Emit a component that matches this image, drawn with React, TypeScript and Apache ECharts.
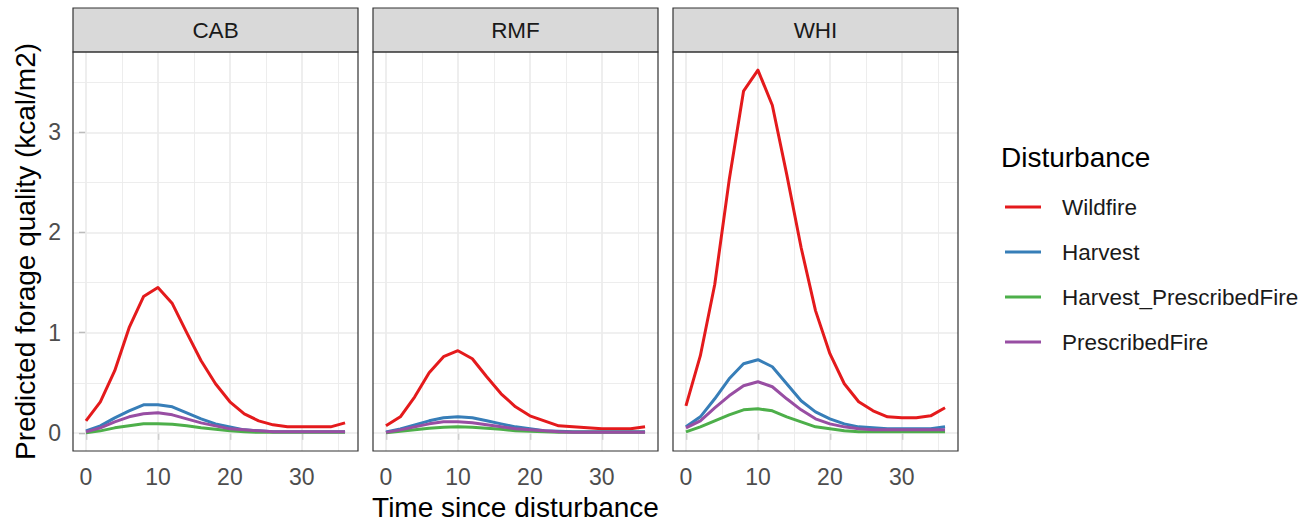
import React, { useEffect, useRef } from "react";
import * as echarts from "echarts";

const sites = ["CAB", "RMF", "WHI"];
const disturbances = ["Wildfire", "Harvest", "Harvest_PrescribedFire", "PrescribedFire"];
const colors = ["#E41A1C", "#377EB8", "#4DAF4A", "#984EA3"];
const times = [0, 2, 4, 6, 8, 10, 12, 14, 16, 18, 20, 22, 24, 26, 28, 30, 32, 34, 36];
const xTicks = [0, 10, 20, 30];
const xMinor = [5, 15, 25, 35];
const yTicks = [0, 1, 2, 3];
const yMinor = [0.5, 1.5, 2.5, 3.5];

const cabWildfire = [0.12, 0.31, 0.62, 1.05, 1.36, 1.45, 1.29, 1.0, 0.72, 0.49, 0.31, 0.19, 0.12, 0.08, 0.06, 0.06, 0.06, 0.06, 0.1];
const cabHarvest = [0.02, 0.07, 0.15, 0.22, 0.28, 0.28, 0.26, 0.2, 0.14, 0.09, 0.06, 0.03, 0.02, 0.01, 0.01, 0.01, 0.01, 0.01, 0.01];
const cabHarvestPF = [0.0, 0.02, 0.05, 0.07, 0.09, 0.09, 0.085, 0.07, 0.05, 0.035, 0.02, 0.01, 0.005, 0.005, 0.005, 0.005, 0.005, 0.005, 0.005];
const cabPF = [0.01, 0.05, 0.11, 0.16, 0.19, 0.2, 0.18, 0.14, 0.1, 0.07, 0.04, 0.03, 0.02, 0.01, 0.01, 0.01, 0.01, 0.01, 0.01];

const rmfWildfire = [0.07, 0.16, 0.36, 0.6, 0.76, 0.82, 0.74, 0.56, 0.39, 0.26, 0.17, 0.12, 0.07, 0.06, 0.05, 0.04, 0.04, 0.04, 0.06];
const rmfHarvest = [0.01, 0.04, 0.08, 0.12, 0.15, 0.16, 0.15, 0.12, 0.09, 0.06, 0.04, 0.02, 0.015, 0.01, 0.01, 0.01, 0.01, 0.01, 0.01];
const rmfHarvestPF = [0.0, 0.015, 0.03, 0.045, 0.055, 0.06, 0.055, 0.045, 0.035, 0.02, 0.015, 0.01, 0.005, 0.005, 0.005, 0.005, 0.005, 0.005, 0.005];
const rmfPF = [0.005, 0.03, 0.06, 0.09, 0.11, 0.11, 0.1, 0.08, 0.06, 0.04, 0.03, 0.02, 0.01, 0.005, 0.005, 0.005, 0.005, 0.005, 0.005];

const whiWildfire = [0.27, 0.77, 1.48, 2.52, 3.41, 3.62, 3.27, 2.58, 1.85, 1.22, 0.79, 0.49, 0.31, 0.22, 0.16, 0.15, 0.15, 0.17, 0.25];
const whiHarvest = [0.06, 0.16, 0.34, 0.54, 0.69, 0.73, 0.66, 0.49, 0.32, 0.21, 0.14, 0.09, 0.06, 0.05, 0.04, 0.04, 0.04, 0.04, 0.06];
const whiHarvestPF = [0.01, 0.06, 0.12, 0.18, 0.23, 0.24, 0.22, 0.16, 0.11, 0.06, 0.04, 0.02, 0.01, 0.01, 0.01, 0.01, 0.01, 0.01, 0.01];
const whiPF = [0.05, 0.12, 0.25, 0.37, 0.47, 0.51, 0.46, 0.34, 0.23, 0.14, 0.09, 0.06, 0.04, 0.03, 0.03, 0.03, 0.03, 0.03, 0.03];

const siteValues: number[][][] = [
  [cabWildfire, cabHarvest, cabHarvestPF, cabPF],
  [rmfWildfire, rmfHarvest, rmfHarvestPF, rmfPF],
  [whiWildfire, whiHarvest, whiHarvestPF, whiPF],
];

const FONT = '"Liberation Sans", Arial, Helvetica, sans-serif';
const panelLeft = [73, 373, 673];
const panelWidth = 285;
const panelTop = 52;
const panelHeight = 399;
const stripTop = 8;

function buildOption() {
  const all = siteValues.flat(2);
  const dMax = Math.max(...all);
  const dMin = Math.min(...all);
  const yPad = (dMax - dMin) * 0.05;
  const yMin = dMin - yPad;
  const yMax = dMax + yPad;
  const xPad = (times[times.length - 1] - times[0]) * 0.05;
  const xMin = times[0] - xPad;
  const xMax = times[times.length - 1] + xPad;

  const grids = sites.map((_, i) => ({
    left: panelLeft[i],
    top: panelTop,
    width: panelWidth,
    height: panelHeight,
    containLabel: false,
    outerBoundsMode: "none",
  }));

  const xAxes = sites.map((_, i) => ({
    type: "value",
    gridIndex: i,
    min: xMin,
    max: xMax,
    axisLine: { show: false },
    splitLine: { show: false },
    axisTick: { show: true, length: 7, lineStyle: { color: "#333333", width: 1.2 }, customValues: xTicks },
    axisLabel: { show: true, customValues: xTicks, color: "#4D4D4D", fontSize: 23, fontFamily: FONT, margin: 14 },
    name: i === 1 ? "Time since disturbance" : "",
    nameLocation: "middle",
    nameGap: 42,
    nameTextStyle: { fontSize: 28, color: "#000000", fontFamily: FONT },
  }));

  const yAxes = sites.map((_, i) => ({
    type: "value",
    gridIndex: i,
    min: yMin,
    max: yMax,
    axisLine: { show: false },
    splitLine: { show: false },
    axisTick: { show: i === 0, length: 7, lineStyle: { color: "#333333", width: 1.2 }, customValues: yTicks },
    axisLabel: { show: i === 0, customValues: yTicks, color: "#4D4D4D", fontSize: 23, fontFamily: FONT, margin: 12 },
    name: i === 0 ? "Predicted forage quality (kcal/m2)" : "",
    nameLocation: "middle",
    nameGap: 34,
    nameTextStyle: { fontSize: 28, color: "#000000", fontFamily: FONT },
  }));

  const series: any[] = [];
  sites.forEach((_, i) => {
    const major = [
      ...xTicks.map((v) => ({ xAxis: v })),
      ...yTicks.map((v) => ({ yAxis: v })),
    ];
    const minor = [
      ...xMinor.map((v) => ({ xAxis: v })),
      ...yMinor.map((v) => ({ yAxis: v })),
    ];
    series.push({
      type: "line",
      name: "",
      xAxisIndex: i,
      yAxisIndex: i,
      data: [],
      z: 1,
      silent: true,
      markLine: {
        silent: true,
        z: 1,
        symbol: ["none", "none"],
        label: { show: false },
        animation: false,
        lineStyle: { color: "#EBEBEB", width: 0.9, type: "solid" },
        data: minor,
      },
    });
    series.push({
      type: "line",
      name: "",
      xAxisIndex: i,
      yAxisIndex: i,
      data: [],
      z: 1,
      silent: true,
      markLine: {
        silent: true,
        z: 1,
        symbol: ["none", "none"],
        label: { show: false },
        animation: false,
        lineStyle: { color: "#EBEBEB", width: 1.7, type: "solid" },
        data: major,
      },
    });
    disturbances.forEach((d, k) => {
      series.push({
        type: "line",
        name: d,
        xAxisIndex: i,
        yAxisIndex: i,
        data: times.map((t, j) => [t, siteValues[i][k][j]]),
        showSymbol: false,
        symbol: "none",
        z: 3 + k,
        color: colors[k],
        lineStyle: { color: colors[k], width: 3, join: "round", cap: "butt" },
        emphasis: { disabled: true },
      });
    });
  });

  const graphics: any[] = [];
  sites.forEach((s, i) => {
    graphics.push({
      type: "rect",
      shape: { x: panelLeft[i], y: stripTop, width: panelWidth, height: panelTop - stripTop },
      style: { fill: "#D9D9D9", stroke: "#333333", lineWidth: 1.2 },
      z: 50,
    });
    graphics.push({
      type: "text",
      x: panelLeft[i] + panelWidth / 2,
      y: (stripTop + panelTop) / 2,
      style: { text: s, fontSize: 22.5, fontFamily: FONT, fill: "#1A1A1A", align: "center", verticalAlign: "middle" },
      z: 51,
    });
    graphics.push({
      type: "rect",
      shape: { x: panelLeft[i], y: panelTop, width: panelWidth, height: panelHeight },
      style: { fill: "none", stroke: "#333333", lineWidth: 1.2 },
      z: 50,
      silent: true,
    });
  });
  graphics.push({
    type: "text",
    x: 1001,
    y: 157,
    style: { text: "Disturbance", fontSize: 28, fontFamily: FONT, fill: "#000000", align: "left", verticalAlign: "middle" },
    z: 51,
  });

  return {
    animation: false,
    backgroundColor: "#FFFFFF",
    textStyle: { fontFamily: FONT },
    grid: grids,
    xAxis: xAxes,
    yAxis: yAxes,
    legend: {
      data: disturbances,
      orient: "vertical",
      left: 1005,
      top: 194,
      padding: 0,
      itemGap: 19,
      itemWidth: 52,
      itemHeight: 3,
      icon: "path://M0,0H36V3H0Z M52,0L52,3",
      itemStyle: { borderWidth: 0 },
      textStyle: { fontSize: 22.5, color: "#1A1A1A", fontFamily: FONT, lineHeight: 26 },
      selectedMode: false,
    },
    graphic: graphics,
    series,
  };
}

export default function App() {
  const ref = useRef<HTMLDivElement>(null);
  useEffect(() => {
    if (!ref.current) return;
    const chart = echarts.init(ref.current, undefined, { renderer: "svg" });
    chart.setOption(buildOption() as any);
    return () => chart.dispose();
  }, []);
  return (
    <div
      ref={ref}
      style={{ position: "absolute", left: 0, top: 0, width: 1315, height: 527, background: "#FFFFFF" }}
    />
  );
}
